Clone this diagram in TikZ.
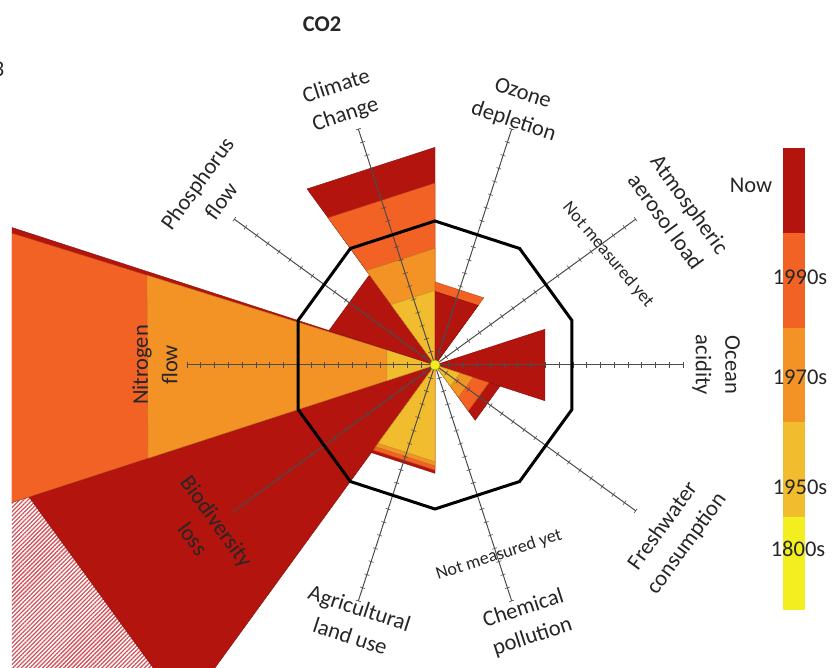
\documentclass[tikz,border=0pt]{standalone}
\usepackage{fontspec}
\setmainfont{Carlito}
\usepackage{tikz}
\usetikzlibrary{patterns.meta}
\definecolor{pbNow}{HTML}{B3140E}
\definecolor{pbNinety}{HTML}{F26224}
\definecolor{pbSeventy}{HTML}{F39326}
\definecolor{pbFifty}{HTML}{F2BC2F}
\definecolor{pbEighteen}{HTML}{F2EE1F}
\definecolor{pbHatch}{HTML}{D2545A}

% one band of a boundary wedge: [start offset]{axis angle}{depth}{colour}
\newcommand\petal[4][0]{%
  \filldraw[petal=#4] (0,0) -- (#2-18+#1:{#3/cos(18)}) -- (#2+18:{#3/cos(18)}) -- cycle;}

\begin{document}
\begin{tikzpicture}[x=1pt, y=1pt,
  petal/.style={fill=#1, draw=#1!75!black, line width=0.4pt},
  axisline/.style={draw=black!70, line width=1pt},
  tickmark/.style={draw=black!70, line width=0.6pt},
  boundary/.style={draw=black, line width=3pt, line join=miter},
  lbl/.style={font=\fontsize{22.5}{29.5}\selectfont, text=black!85, align=center},
  small/.style={font=\fontsize{18}{22}\selectfont, text=black!85},
]
  \useasboundingbox (-435,-303) rectangle (402,365);

  \begin{scope}
    \clip (-423,-303) rectangle (402,365);
    % biodiversity loss, with the hatched part beyond
    \fill[pattern={Lines[angle=45, distance=3pt, line width=1.3pt]}, pattern color=pbHatch]
      (198:{406/cos(18)}) -- (234:{406/cos(18)}) -- (234:900) -- (198:900) -- cycle;
    \petal{216}{406}{pbNow}
    % nitrogen flow
    \petal{180}{700}{pbNow}
    \petal[0.7]{180}{700}{pbNinety}
    \petal[0.7]{180}{287}{pbSeventy}
    \petal[0.7]{180}{48}{pbFifty}
    % phosphorus flow
    \petal{144}{106}{pbNow}
    % climate change
    \petal{108}{207}{pbNow}
    \petal{108}{173}{pbNinety}
    \petal{108}{111}{pbSeventy}
    \petal{108}{71}{pbFifty}
    % ozone depletion
    \petal{72}{79}{pbNinety}
    \petal{72}{70}{pbNow}
    % ocean acidity
    \petal{0}{110}{pbNow}
    % freshwater consumption
    \petal{324}{65}{pbNow}
    \petal{324}{54}{pbNinety}
    \petal{324}{38}{pbSeventy}
    \petal{324}{25}{pbFifty}
    % agricultural land use
    \petal{252}{103}{pbNow}
    \petal{252}{100}{pbNinety}
    \petal{252}{96}{pbSeventy}
    \petal{252}{92}{pbFifty}
  \end{scope}

  % axes with ticks
  \foreach \a in {0,36,...,324}{
    \begin{scope}[rotate=\a]
      \draw[axisline] (0,0) -- (248,0);
      \foreach \k in {1,...,18}
        \draw[tickmark] (\k*13.78,-2.6) -- ++(0,5.2);
    \end{scope}
  }

  % safe operating space
  \draw[boundary] (18:144) \foreach \a in {54,90,...,342}{ -- (\a:144) } -- cycle;
  \filldraw[fill=pbEighteen, draw=pbEighteen!60!black, line width=0.4pt] (0,0) circle (5);

  % labels
  \node[lbl, font=\fontsize{22.5}{28}\selectfont\bfseries] (title) at (-113,341) {CO2};
  \node[lbl] (cut) at (-436.5,296) {3};
  \node[lbl, rotate=18] (climate) at (-94,264) {Climate\\Change};
  \node[lbl, rotate=-18] (ozone) at (83,257) {Ozone\\depletion};
  \node[lbl, rotate=-54] (aerosol) at (243,152) {Atmospheric\\aerosol load};
  \node[small, rotate=-50] (nmAerosol) at (173,110) {Not measured yet};
  \node[lbl, rotate=-90] (ocean) at (281,0) {Ocean\\acidity};
  \node[lbl, rotate=54] (fresh) at (240,-170) {Freshwater\\consumption};
  \node[lbl, rotate=18] (chem) at (93,-258) {Chemical\\pollution};
  \node[small, rotate=18] (nmChem) at (64,-190) {Not measured yet};
  \node[lbl, rotate=-18] (agri) at (-80,-257) {Agricultural\\land use};
  \node[lbl, rotate=-54] (bio) at (-230,-165) {Biodiversity\\loss};
  \node[lbl, rotate=90] (nitro) at (-280,0) {Nitrogen\\flow};
  \node[lbl, rotate=54] (phos) at (-226,173) {Phosphorus\\flow};

  % legend bar
  \fill[pbNow] (348,217) rectangle (370,132);
  \fill[pbNinety] (348,132) rectangle (370,37);
  \fill[pbSeventy] (348,37) rectangle (370,-57);
  \fill[pbFifty] (348,-57) rectangle (370,-152);
  \fill[pbEighteen] (348,-152) rectangle (370,-245);
  \node[lbl] (kNow) at (316,180) {Now};
  \node[lbl] (kNinety) at (365,88) {1990s};
  \node[lbl] (kSeventy) at (365,-12) {1970s};
  \node[lbl] (kFifty) at (365,-122) {1950s};
  \node[lbl] (kEighteen) at (363,-184) {1800s};
\end{tikzpicture}
\end{document}
